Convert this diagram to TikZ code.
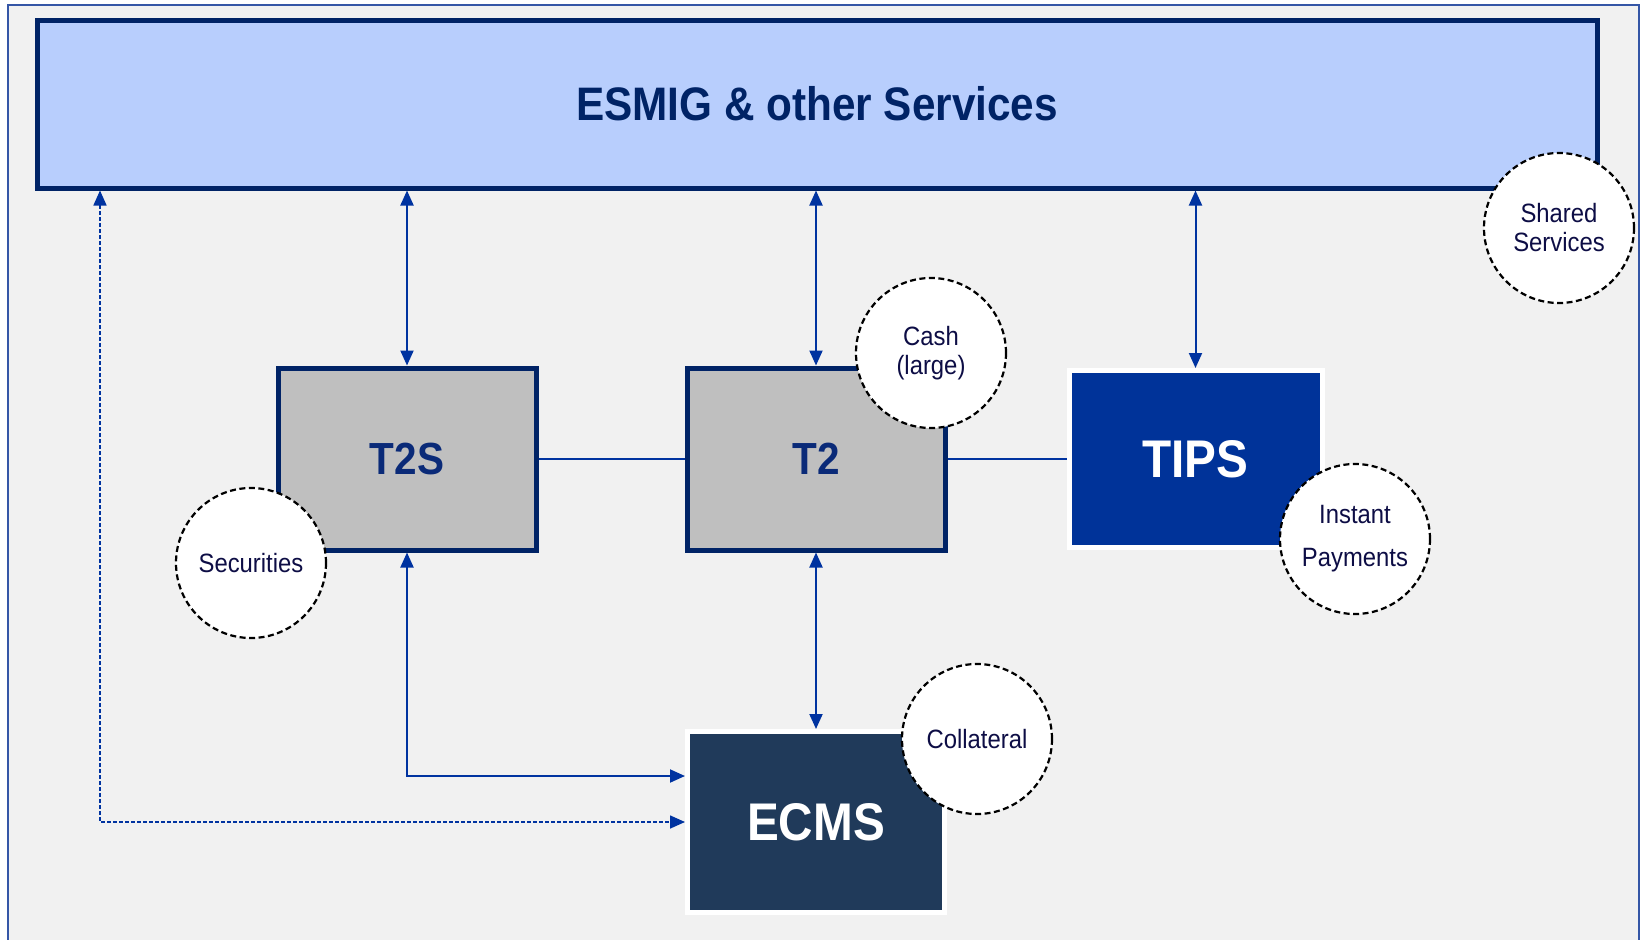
\documentclass[tikz,border=0pt]{standalone}
\usepackage{fontspec}
\setmainfont{Liberation Sans}[FakeStretch=0.9]
\usetikzlibrary{arrows.meta}
\definecolor{bgc}{HTML}{F1F1F1}
\definecolor{framec}{HTML}{3556A6}
\definecolor{navy}{HTML}{002366}
\definecolor{esmigfill}{HTML}{B8CEFD}
\definecolor{greyfill}{HTML}{BFBFBF}
\definecolor{tipsfill}{HTML}{003399}
\definecolor{ecmsfill}{HTML}{203A5A}
\definecolor{linkc}{HTML}{0033A0}
\definecolor{lbltext}{HTML}{0A2A78}
\definecolor{circtext}{HTML}{0D0D45}
\tikzset{
  greybox/.style={draw=navy, line width=5pt, fill=greyfill, inner sep=0pt, outer sep=2.5pt,
    minimum width=258pt, minimum height=182pt, text=lbltext,
    font=\bfseries\fontsize{45}{54}\selectfont},
  darkbox/.style={draw=white, line width=5pt, inner sep=0pt, outer sep=2.5pt,
    text=white, font=\bfseries\fontsize{53}{64}\selectfont},
  tag/.style={circle, draw=black, fill=white, line width=2.2pt, dash pattern=on 6pt off 3.5pt,
    minimum size=150pt, inner sep=0pt, align=center, text=circtext},
  link/.style={draw=linkc, line width=2pt},
  biarrow/.style={link, {Triangle[length=15pt,width=13pt]}-{Triangle[length=15pt,width=13pt]}},
}
\begin{document}
\begin{tikzpicture}[x=1pt, y=-1pt]
\useasboundingbox (0,0) rectangle (1642,940);
\fill[white] (0,0) rectangle (1642,940);
\path[fill=bgc] (8,5) rectangle (1639,945);
\draw[framec, line width=1.8pt] (8,945) -- (8,5) -- (1639,5) -- (1639,945);

\node[draw=navy, line width=5pt, fill=esmigfill, inner sep=0pt, outer sep=2.5pt,
  minimum width=1560pt, minimum height=168pt, text=navy,
  font=\bfseries\fontsize{47}{56}\selectfont] (esmig) at (817,104) {ESMIG \& other Services};

\node[greybox] (t2s) at (407,459) {T2S};
\node[greybox] (t2) at (816,459) {T2};
\node[darkbox, fill=tipsfill, minimum width=253pt, minimum height=177pt] (tips) at (1195.5,459) {TIPS};
\node[darkbox, fill=ecmsfill, minimum width=257pt, minimum height=181pt] (ecms) at (816,822) {ECMS};

\coordinate (dx) at (100,822);

\draw[link] (t2s.east) -- (t2.west);
\draw[link] (t2.east) -- (tips.west);
\draw[biarrow] (esmig.south -| t2s.north) -- (t2s.north);
\draw[biarrow] (esmig.south -| t2.north) -- (t2.north);
\draw[biarrow] (esmig.south -| tips.north) -- (tips.north);
\draw[biarrow] (t2.south) -- (ecms.north);
\draw[biarrow] (t2s.south) |- ([yshift=46pt]ecms.west);
\draw[biarrow, dashed, line width=1.6pt, dash pattern=on 4pt off 2pt] (esmig.south -| dx) |- (ecms.west);

\node[tag, font=\fontsize{26.5}{29}\selectfont] (shared) at (1559,228) {Shared\\Services};
\node[tag, font=\fontsize{26.5}{29}\selectfont] (cash) at (931,353) {Cash\\(large)};
\node[tag, font=\fontsize{26.5}{29}\selectfont] (secu) at (251,563) {Securities};
\node[tag, font=\fontsize{26.5}{43}\selectfont] (inst) at (1355,539) {Instant\\Payments};
\node[tag, font=\fontsize{26.5}{29}\selectfont] (coll) at (977,739) {Collateral};
\end{tikzpicture}
\end{document}
